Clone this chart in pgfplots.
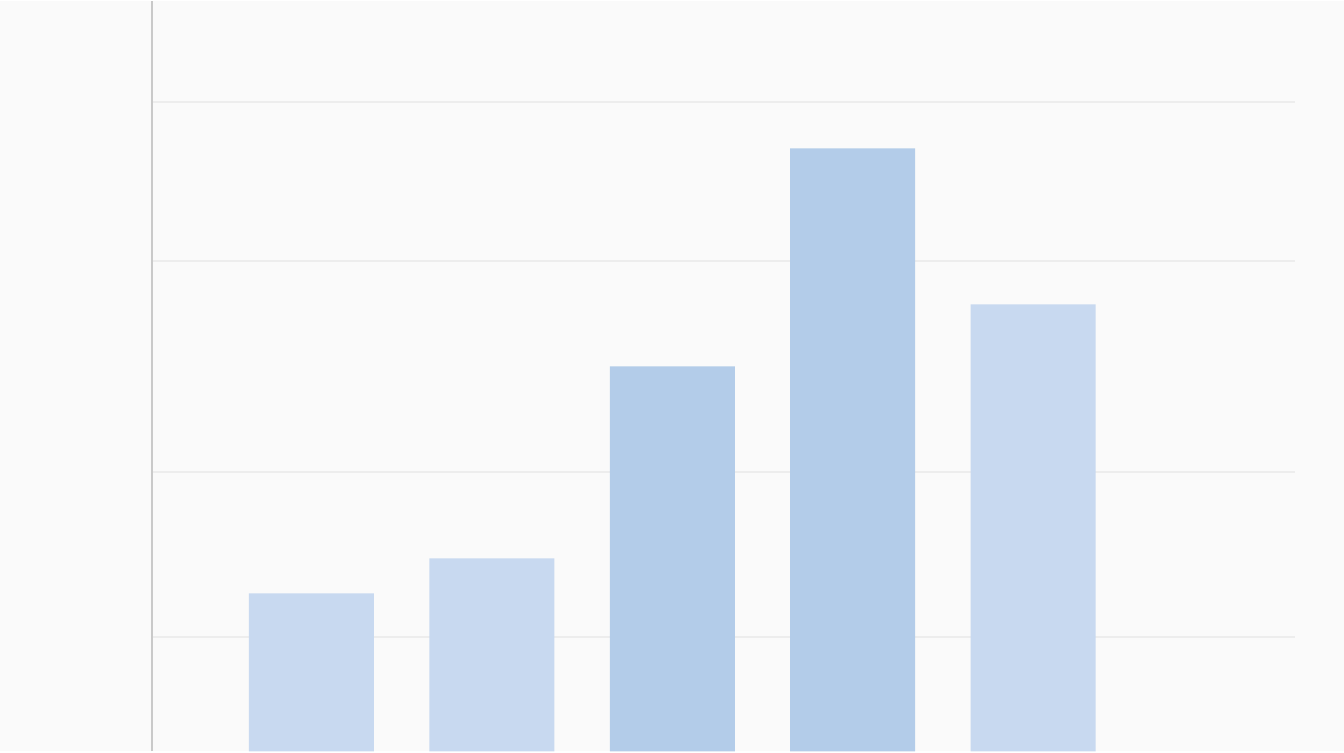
\documentclass[border=0pt]{standalone}
\usepackage{pgfplots}
\pgfplotsset{compat=1.18}

\definecolor{bgpage}{HTML}{FAFAFA}
\definecolor{barlight}{HTML}{C8D9F0}
\definecolor{bardark}{HTML}{B3CCE9}
\definecolor{gridc}{HTML}{EDEDED}
\definecolor{axisc}{HTML}{C9C9C9}

\begin{document}
\begin{tikzpicture}
% page background, 1 px = 0.01 cm
\fill[bgpage] (-1.52,0) rectangle (11.92,7.5);
\begin{axis}[
    at={(0,0)}, anchor=south west,
    scale only axis,
    width=11.43cm, height=7.5cm,
    xmin=-0.884, xmax=5.452,
    ymin=0, ymax=75,
    axis line style={draw=none},
    xtick=\empty,
    ytick={11.4,27.9,49.0,64.9},
    yticklabels={},
    major tick length=0pt,
    ymajorgrids,
    grid style={gridc, line width=0.6pt},
    ybar, bar width=0.693, bar shift=0pt,
    clip=false,
]
% light bars
\addplot[fill=barlight, draw=none] coordinates {(0,15.8) (1,19.3) (4,44.7)};
% darker bars
\addplot[fill=bardark, draw=none] coordinates {(2,38.5) (3,60.3)};
\end{axis}
% left axis line
\draw[axisc, line width=0.8pt] (0,0) -- (0,7.5);
\end{tikzpicture}
\end{document}
